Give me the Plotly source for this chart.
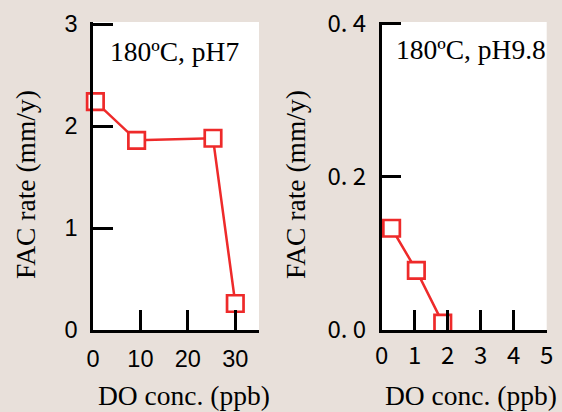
import plotly.graph_objects as go

# Data
ph7_do = [0.5, 9.2, 25.3, 30.0]
ph7_fac = [2.24, 1.86, 1.88, 0.26]
ph98_do = [0.3, 1.05, 1.85]
ph98_fac = [0.133, 0.078, 0.009]

left_yticks = [0, 1, 2, 3]
left_xticks = [0, 10, 20, 30]
right_yticks = [0.0, 0.2, 0.4]
right_yticklabels = ["0. 0", "0. 2", "0. 4"]
right_xticks = [0, 1, 2, 3, 4, 5]

W, H = 562, 412
BG = "#e8e0da"
RED = "#ee2a2a"

def px(x):
    return x / W

def py(y):
    return 1 - y / H

fig = go.Figure()

marker = dict(symbol="square", size=16.5, color="white", line=dict(color=RED, width=2.7))
fig.add_trace(go.Scatter(x=ph7_do, y=ph7_fac, mode="lines+markers",
                         line=dict(color=RED, width=2.5), marker=marker,
                         xaxis="x", yaxis="y", cliponaxis=False, showlegend=False))
fig.add_trace(go.Scatter(x=ph98_do, y=ph98_fac, mode="lines+markers",
                         line=dict(color=RED, width=2.5), marker=marker,
                         xaxis="x2", yaxis="y2", cliponaxis=False, showlegend=False))

tickfont = dict(family="Liberation Sans, Arial", size=23.5, color="black")
cjkfont = dict(family="Noto Sans CJK JP", size=24, color="black")

axis_common = dict(showgrid=False, zeroline=False, showline=True, linecolor="black",
                   linewidth=2.5, ticks="inside", ticklen=20, tickwidth=2.5,
                   tickcolor="black", mirror=False, automargin=False)

fig.update_layout(
    template="none",
    width=W, height=H,
    margin=dict(l=0, r=0, t=0, b=0, pad=0),
    paper_bgcolor=BG, plot_bgcolor="white",
    xaxis=dict(domain=[px(93), px(259)], range=[0, 35], tickvals=left_xticks,
               tickfont=tickfont, anchor="y", ticklabelstandoff=6, **axis_common),
    yaxis=dict(domain=[py(330), py(22)], range=[0, 3.02], tickvals=left_yticks,
               tickfont=tickfont, anchor="x", ticklabelstandoff=8, **axis_common),
    xaxis2=dict(domain=[px(381.7), px(546.7)], range=[0, 5], tickvals=right_xticks,
                tickfont=cjkfont, anchor="y2", ticklabelstandoff=2, **axis_common),
    yaxis2=dict(domain=[py(330), py(22)], range=[0, 0.4026], tickvals=right_yticks,
                ticktext=right_yticklabels, tickfont=cjkfont, anchor="x2",
                ticklabelstandoff=8, **axis_common),
)

serif = dict(family="Liberation Serif, Times New Roman", size=27.5, color="black")
annots = [
    dict(text="180ºC, pH7", x=px(108), y=py(52), xanchor="left", yanchor="middle"),
    dict(text="180ºC, pH9.8", x=px(394), y=py(50), xanchor="left", yanchor="middle"),
    dict(text="FAC rate (mm/y)", x=px(25), y=py(185), xanchor="center", yanchor="middle", textangle=-90),
    dict(text="FAC rate (mm/y)", x=px(295), y=py(185), xanchor="center", yanchor="middle", textangle=-90),
    dict(text="DO conc. (ppb)", x=px(184), y=py(395), xanchor="center", yanchor="middle"),
    dict(text="DO conc. (ppb)", x=px(471), y=py(395), xanchor="center", yanchor="middle"),
]
for a in annots:
    fig.add_annotation(xref="paper", yref="paper", showarrow=False, font=serif, **a)

fig.write_html(
    "out.html",
    config={"displayModeBar": False},
    post_script="document.body.style.margin='0';document.body.style.overflow='hidden';"
                "document.documentElement.style.overflow='hidden';",
)
